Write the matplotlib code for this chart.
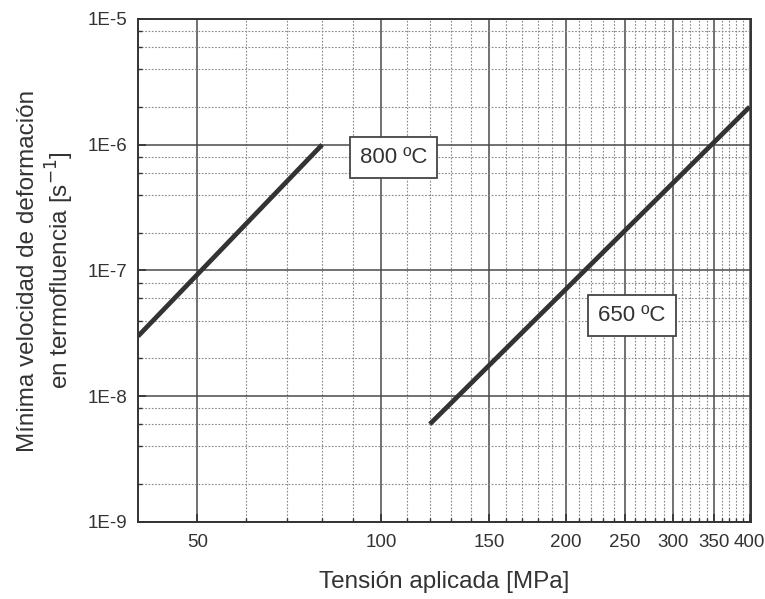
import matplotlib
matplotlib.use("Agg")
import matplotlib.pyplot as plt
from matplotlib.ticker import FixedLocator, FixedFormatter, NullFormatter

plt.rcParams['font.family'] = ['Liberation Sans', 'DejaVu Sans']

# Creep data: applied stress [MPa] vs. minimum creep strain rate [1/s]
stress_800 = [40, 80]
rate_800 = [3e-8, 1e-6]
stress_650 = [120, 400]
rate_650 = [6e-9, 2e-6]

curve_labels = ["800 ºC", "650 ºC"]
label_pos = [(104.6, 7.9e-7), (257, 4.4e-8)]

x_major = [50, 100, 150, 200, 250, 300, 350, 400]
x_minor = [v for v in range(40, 401, 10) if v not in x_major and v != 40]
y_major = [1e-9, 1e-8, 1e-7, 1e-6, 1e-5]
y_major_labels = ["1E-9", "1E-8", "1E-7", "1E-6", "1E-5"]
y_minor = [m * 10.0 ** e for e in range(-9, -5) for m in (2, 4, 6, 8)]

fig = plt.figure(figsize=(7.65, 5.99), dpi=100)
ax = fig.add_axes([0.1804, 0.1286, 0.8013, 0.8397])

ax.set_xscale('log')
ax.set_yscale('log')
ax.set_xlim(40, 402)
ax.set_ylim(1e-9, 1e-5)

ax.xaxis.set_major_locator(FixedLocator(x_major))
ax.xaxis.set_major_formatter(FixedFormatter([str(v) for v in x_major]))
ax.xaxis.set_minor_locator(FixedLocator(x_minor))
ax.xaxis.set_minor_formatter(NullFormatter())
ax.yaxis.set_major_locator(FixedLocator(y_major))
ax.yaxis.set_major_formatter(FixedFormatter(y_major_labels))
ax.yaxis.set_minor_locator(FixedLocator(y_minor))
ax.yaxis.set_minor_formatter(NullFormatter())

ax.grid(True, which='major', color='#4a4a4a', linewidth=1.1, linestyle='-')
ax.grid(True, which='minor', color='#888888', linewidth=0.8, linestyle=(0, (1.5, 1.5)))
ax.set_axisbelow(True)

ax.tick_params(which='major', direction='in', length=6, width=1.2, labelsize=13.5,
               colors='#333333')
ax.tick_params(axis='x', which='major', pad=9)
ax.tick_params(axis='y', which='major', pad=8)
ax.tick_params(which='minor', direction='in', length=3, width=1.0, colors='#333333')
for sp in ax.spines.values():
    sp.set_linewidth(1.4)
    sp.set_color('#333333')

ax.plot(stress_800, rate_800, color='#333333', linewidth=3.4, solid_capstyle='butt')
ax.plot(stress_650, rate_650, color='#333333', linewidth=3.4, solid_capstyle='butt')

for lbl, (xp, yp) in zip(curve_labels, label_pos):
    ax.text(xp, yp, lbl, fontsize=16, ha='center', va='center', color='#333333',
            bbox=dict(boxstyle='square,pad=0.45', facecolor='white',
                      edgecolor='#444444', linewidth=1.3))

ax.set_xlabel("Tensión aplicada [MPa]", fontsize=17.5, color='#333333', labelpad=14)
ax.set_ylabel("Mínima velocidad de deformación\nen termofluencia [s$^{-1}$]",
              fontsize=17.5, color='#333333', labelpad=8)

fig.savefig("out.png", dpi=100)
